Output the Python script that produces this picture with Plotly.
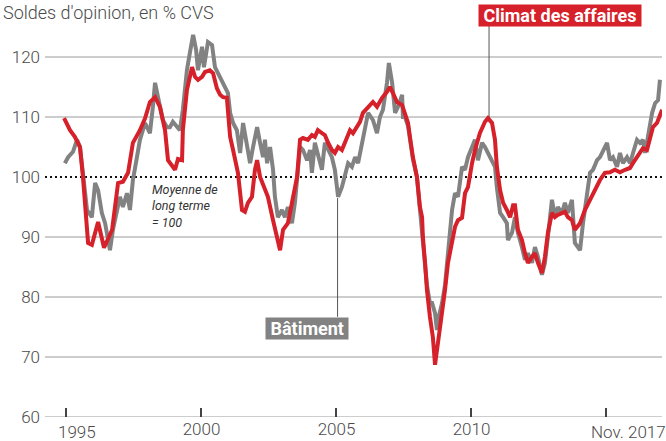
import plotly.graph_objects as go

# ---- data (decimal years, index values) ----
climat_dates = [1994.91, 1995.13, 1995.31, 1995.50, 1995.61, 1995.80, 1995.94, 1996.17, 1996.39, 1996.69,
                1996.91, 1997.09, 1997.28, 1997.46, 1997.72, 1997.91, 1998.09, 1998.28, 1998.46, 1998.65,
                1998.76, 1998.94, 1999.02, 1999.13, 1999.28, 1999.31, 1999.46, 1999.65, 1999.76, 1999.87,
                2000.02, 2000.13, 2000.31, 2000.43, 2000.57, 2000.69, 2000.80, 2000.94, 2001.06, 2001.17,
                2001.35, 2001.50, 2001.61, 2001.72, 2001.87, 2001.98, 2002.06, 2002.17, 2002.35, 2002.46,
                2002.65, 2002.91, 2003.02, 2003.20, 2003.35, 2003.54, 2003.65, 2003.76, 2003.94, 2004.09,
                2004.20, 2004.31, 2004.46, 2004.57, 2004.69, 2004.83, 2004.94, 2005.06, 2005.20, 2005.39,
                2005.50, 2005.61, 2005.76, 2005.87, 2005.98, 2006.13, 2006.24, 2006.35, 2006.50, 2006.69,
                2006.87, 2006.98, 2007.09, 2007.24, 2007.43, 2007.54, 2007.65, 2007.72, 2007.83, 2007.98,
                2008.09, 2008.17, 2008.20, 2008.28, 2008.35, 2008.46, 2008.57, 2008.65, 2008.76, 2008.91,
                2009.02, 2009.13, 2009.28, 2009.39, 2009.50, 2009.65, 2009.76, 2009.87, 2010.02, 2010.13,
                2010.31, 2010.50, 2010.61, 2010.76, 2010.87, 2010.94, 2011.06, 2011.17, 2011.31, 2011.43,
                2011.54, 2011.61, 2011.72, 2011.87, 2011.98, 2012.09, 2012.24, 2012.35, 2012.46, 2012.61,
                2012.72, 2012.83, 2012.98, 2013.09, 2013.20, 2013.35, 2013.46, 2013.57, 2013.72, 2013.83,
                2013.94, 2014.02, 2014.20, 2014.39, 2014.57, 2014.76, 2014.94, 2015.13, 2015.31, 2015.50,
                2015.69, 2015.87, 2015.98, 2016.13, 2016.24, 2016.35, 2016.50, 2016.61, 2016.72, 2016.87,
                2016.98, 2017.06]
climat_values = [109.8, 107.8, 106.7, 105.0, 100.0, 89.0, 88.7, 92.5, 88.2, 91.2,
                 99.0, 99.2, 100.7, 105.7, 107.8, 109.8, 112.5, 113.3, 111.7, 107.8,
                 102.8, 101.5, 101.2, 103.0, 102.8, 107.8, 114.5, 118.3, 116.7, 116.2,
                 116.7, 117.5, 117.8, 117.3, 114.8, 113.7, 113.3, 113.2, 106.7, 104.5,
                 100.7, 94.5, 94.2, 95.7, 96.7, 101.2, 102.8, 100.0, 97.8, 96.7,
                 92.8, 87.8, 91.2, 92.3, 95.7, 100.0, 106.2, 106.5, 106.2, 107.0,
                 106.7, 107.8, 107.3, 107.0, 105.7, 104.5, 104.0, 105.0, 104.5, 106.7,
                 107.8, 107.3, 108.3, 109.2, 110.7, 111.5, 112.0, 112.5, 111.7, 113.2,
                 114.2, 115.0, 114.0, 112.5, 112.0, 110.3, 109.0, 106.7, 103.3, 100.0,
                 95.0, 93.3, 90.0, 85.7, 81.2, 76.7, 73.3, 68.7, 72.3, 76.7,
                 81.2, 85.7, 89.5, 91.7, 92.8, 93.2, 97.3, 98.3, 102.3, 104.5,
                 107.3, 109.2, 109.8, 109.0, 106.2, 101.7, 97.8, 95.7, 94.5, 93.3,
                 95.3, 95.3, 91.2, 89.5, 87.3, 85.7, 86.7, 87.3, 85.7, 84.0,
                 86.7, 90.7, 94.0, 93.3, 93.7, 94.0, 94.2, 93.3, 92.8, 91.2,
                 91.7, 92.3, 94.5, 96.2, 97.8, 99.5, 100.7, 100.8, 101.2, 100.8,
                 101.2, 101.5, 102.3, 103.3, 104.0, 104.8, 104.5, 106.2, 108.3, 109.0,
                 110.3, 111.2]

batiment_dates = [1994.94, 1995.06, 1995.24, 1995.39, 1995.50, 1995.61, 1995.76, 1995.94, 1996.06, 1996.17,
                  1996.31, 1996.43, 1996.54, 1996.61, 1996.72, 1996.87, 1996.98, 1997.09, 1997.24, 1997.35,
                  1997.46, 1997.61, 1997.72, 1997.91, 1998.09, 1998.20, 1998.28, 1998.39, 1998.46, 1998.57,
                  1998.72, 1998.83, 1998.94, 1999.09, 1999.20, 1999.31, 1999.46, 1999.57, 1999.69, 1999.80,
                  1999.87, 2000.02, 2000.09, 2000.24, 2000.39, 2000.50, 2000.61, 2000.76, 2000.87, 2000.98,
                  2001.06, 2001.17, 2001.31, 2001.43, 2001.54, 2001.69, 2001.80, 2001.91, 2002.06, 2002.17,
                  2002.28, 2002.35, 2002.43, 2002.54, 2002.65, 2002.72, 2002.83, 2002.98, 2003.09, 2003.20,
                  2003.35, 2003.46, 2003.57, 2003.65, 2003.76, 2003.91, 2004.02, 2004.09, 2004.20, 2004.31,
                  2004.46, 2004.57, 2004.69, 2004.83, 2004.94, 2005.06, 2005.20, 2005.31, 2005.43, 2005.57,
                  2005.69, 2005.80, 2005.94, 2006.06, 2006.17, 2006.35, 2006.50, 2006.61, 2006.72, 2006.87,
                  2006.94, 2007.06, 2007.17, 2007.28, 2007.43, 2007.46, 2007.54, 2007.65, 2007.72, 2007.83,
                  2007.98, 2008.09, 2008.20, 2008.28, 2008.35, 2008.46, 2008.54, 2008.65, 2008.72, 2008.76,
                  2008.91, 2009.02, 2009.13, 2009.28, 2009.39, 2009.50, 2009.65, 2009.76, 2009.87, 2010.02,
                  2010.13, 2010.24, 2010.39, 2010.50, 2010.61, 2010.76, 2010.87, 2010.94, 2011.06, 2011.17,
                  2011.31, 2011.35, 2011.50, 2011.61, 2011.72, 2011.87, 2011.98, 2012.09, 2012.24, 2012.35,
                  2012.46, 2012.61, 2012.72, 2012.83, 2012.98, 2013.09, 2013.20, 2013.35, 2013.46, 2013.57,
                  2013.72, 2013.83, 2014.02, 2014.13, 2014.28, 2014.39, 2014.50, 2014.65, 2014.76, 2014.87,
                  2015.02, 2015.13, 2015.24, 2015.39, 2015.50, 2015.61, 2015.76, 2015.87, 2015.98, 2016.13,
                  2016.24, 2016.35, 2016.43, 2016.54, 2016.69, 2016.80, 2016.91, 2016.98]
batiment_values = [102.3, 103.3, 104.2, 106.2, 105.0, 100.0, 94.5, 93.3, 99.0, 97.8,
                   94.0, 92.3, 89.0, 87.8, 91.2, 94.5, 96.7, 95.0, 97.3, 94.5,
                   99.5, 103.3, 106.2, 109.0, 107.3, 111.7, 115.7, 113.3, 111.7, 109.5,
                   108.3, 108.3, 109.2, 108.3, 107.8, 111.2, 117.8, 120.7, 123.7, 121.2,
                   117.8, 121.7, 118.3, 122.5, 122.0, 118.3, 117.3, 116.2, 115.0, 114.0,
                   110.7, 109.0, 107.8, 104.0, 109.0, 105.0, 102.3, 105.0, 108.3, 105.7,
                   103.3, 106.2, 102.3, 105.0, 101.2, 96.7, 93.3, 94.5, 93.3, 95.0,
                   92.3, 95.7, 101.2, 105.0, 104.5, 102.8, 104.5, 100.7, 105.7, 104.0,
                   101.2, 105.7, 104.5, 103.3, 101.2, 96.7, 98.3, 100.0, 102.3, 101.7,
                   103.3, 102.3, 105.7, 107.8, 110.7, 109.5, 107.3, 110.0, 111.2, 115.7,
                   119.0, 115.7, 110.7, 111.7, 113.7, 110.0, 110.0, 108.5, 106.0, 103.0,
                   100.0, 94.5, 90.0, 86.0, 82.0, 79.0, 79.0, 77.3, 74.5, 76.2,
                   79.0, 82.0, 87.0, 94.5, 97.3, 96.7, 101.7, 101.2, 103.3, 105.0,
                   106.2, 102.8, 105.7, 105.0, 104.0, 102.8, 101.7, 98.3, 94.0, 93.3,
                   92.3, 89.5, 90.7, 93.3, 90.7, 88.3, 86.2, 87.3, 85.7, 88.3,
                   86.7, 83.7, 85.7, 90.0, 96.2, 93.3, 95.0, 94.0, 95.7, 94.0,
                   96.2, 89.0, 87.8, 92.3, 97.3, 100.7, 101.2, 102.8, 103.3, 104.5,
                   105.7, 102.8, 103.3, 101.7, 104.0, 102.3, 103.3, 102.3, 104.0, 106.2,
                   105.7, 106.2, 104.0, 106.7, 110.7, 112.3, 112.8, 116.2]

y_tick_values = [60, 70, 80, 90, 100, 110, 120]
grid_values = [60, 70, 80, 90, 110, 120]
long_term_mean = 100
x_tick_values = [1995, 2000, 2005, 2010, 2015, 2017.06]
x_tick_labels = ["", "2000", "2005", "2010", "", ""]

RED = "#d6202a"
GREY = "#828282"
TXT = "#4a4a4a"
FONT = "Roboto"

fig = go.Figure()
fig.add_trace(go.Scatter(x=batiment_dates, y=batiment_values, mode="lines",
                         line=dict(color=GREY, width=4, shape="linear"), hoverinfo="skip"))
fig.add_trace(go.Scatter(x=climat_dates, y=climat_values, mode="lines",
                         line=dict(color=RED, width=4), hoverinfo="skip"))

# grid lines
for g in grid_values:
    fig.add_shape(type="line", xref="paper", x0=0, x1=1, yref="y", y0=g, y1=g,
                  line=dict(color="#9a9a9a", width=1), layer="below")
# long term mean (dotted)
fig.add_shape(type="line", xref="paper", x0=0, x1=1, yref="y", y0=long_term_mean, y1=long_term_mean,
              line=dict(color="#111111", width=2, dash="2px,3px"), layer="below")

# callout lines
fig.add_shape(type="line", x0=2010.65, x1=2010.65, y0=109.8, y1=125.5,
              line=dict(color="#555555", width=1), layer="below")
fig.add_shape(type="line", x0=2005.04, x1=2005.04, y0=96.5, y1=76.7,
              line=dict(color="#555555", width=1), layer="below")

fig.add_annotation(x=2013.28, y=127.0, text="&nbsp;<b>Climat des affaires</b>&nbsp;", showarrow=False,
                   font=dict(family=FONT, size=18, color="white"), bgcolor=RED, borderpad=0,
                   xanchor="center", yanchor="middle")
fig.add_annotation(x=2003.89, y=74.75, text="&nbsp;<b>Bâtiment</b>&nbsp;", showarrow=False,
                   font=dict(family=FONT, size=18, color="white"), bgcolor=GREY, borderpad=0,
                   xanchor="center", yanchor="middle")
fig.add_annotation(x=1998.09, y=95.2, text="Moyenne de<br>long terme<br>= 100", showarrow=False,
                   font=dict(family=FONT, size=12.5, color="#333333", style="italic"),
                   align="left", xanchor="left", yanchor="middle")
fig.add_annotation(xref="paper", x=-0.072, yref="paper", y=1.0, text="Soldes d'opinion, en % CVS",
                   showarrow=False, font=dict(family=FONT, size=18, color=TXT, weight=300),
                   xanchor="left", yanchor="top")
fig.add_annotation(x=1995.4, yref="paper", y=-0.035, text="1995", showarrow=False,
                   font=dict(family=FONT, size=17, color=TXT, weight=300), xanchor="center", yanchor="middle")
fig.add_annotation(xref="paper", x=1.01, yref="paper", y=-0.035, text="Nov. 2017", showarrow=False,
                   font=dict(family=FONT, size=17, color=TXT, weight=300), xanchor="right", yanchor="middle")

fig.update_layout(
    width=666, height=441,
    margin=dict(l=45, r=4, t=0, b=24),
    paper_bgcolor="white", plot_bgcolor="white",
    showlegend=False,
    xaxis=dict(range=[1994.204, 2017.056], tickvals=x_tick_values, ticktext=x_tick_labels,
               showgrid=False, zeroline=False, showline=False,
               ticks="inside", ticklen=9, tickwidth=1.5, tickcolor="#444444",
               tickfont=dict(family=FONT, size=17, color=TXT, weight=300)),
    yaxis=dict(range=[60, 129.5], tickvals=y_tick_values, showgrid=False, zeroline=False,
               showline=False, ticks="", ticklabelstandoff=4,
               tickfont=dict(family=FONT, size=17, color=TXT, weight=300)),
)

fig.write_html("out.html", config={"displayModeBar": False},
               post_script="document.body.style.margin='0';document.body.style.overflow='hidden';")
